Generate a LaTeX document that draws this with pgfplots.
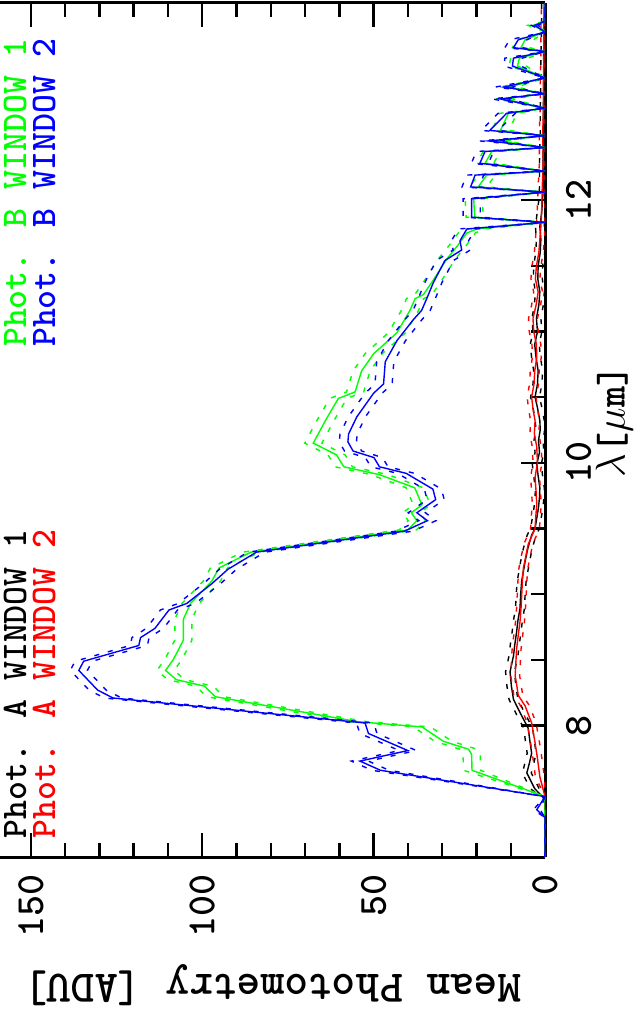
\documentclass[border=0pt]{standalone}
\usepackage{pgfplots}
\pgfplotsset{compat=1.18}
\usepackage{pgfplotstable}

% columns: wavelength, mean, lower, upper
\pgfplotstableread{
lam m lo hi
7.00 0 0 0
7.44 0 0 0
7.52 3.0 1.7 4.3
7.64 5.3 4.0 6.6
7.72 4.5 3.2 5.8
7.79 3.9 2.6 5.2
7.90 4.5 3.2 5.8
7.98 4.9 3.6 6.2
8.10 7.3 6.0 8.6
8.20 9.2 7.9 10.5
8.30 9.8 8.5 11.1
8.41 10.2 8.9 11.5
8.53 9.2 7.9 10.5
8.62 8.8 7.5 10.1
8.71 8.3 7.0 9.6
8.80 7.9 6.6 9.2
8.89 7.3 6.0 8.6
9.00 7.1 5.8 8.4
9.10 6.8 5.5 8.1
9.25 5.8 4.5 7.1
9.35 5.0 3.7 6.3
9.45 3.9 2.6 5.2
9.50 2.9 1.6 4.2
9.58 2.4 1.1 3.7
9.66 1.9 0.6 3.2
9.74 1.6 0.3 2.9
9.81 1.5 0.2 2.8
9.90 2.0 0.7 3.3
9.99 2.4 1.1 3.7
10.08 1.6 0.3 2.9
10.17 1.9 0.6 3.2
10.25 1.4 0.1 2.7
10.32 1.5 0.2 2.8
10.42 2.2 0.9 3.5
10.50 2.9 1.6 4.2
10.60 2.2 0.9 3.5
10.70 2.0 0.7 3.3
10.80 2.6 1.3 3.9
10.90 3.0 1.7 4.3
11.00 2.2 0.9 3.5
11.10 2.5 1.2 3.8
11.20 1.8 0.5 3.1
11.30 1.5 0.2 2.8
11.40 2.1 0.8 3.4
11.50 2.0 0.7 3.3
11.60 1.4 0.1 2.7
11.70 1.2 0.0 2.5
11.80 1.5 0.2 2.8
11.90 1.0 0.0 2.3
12.00 0.7 0.0 1.8
12.10 0.5 0.0 1.6
12.30 0.6 0.0 1.6
12.50 0.4 0.0 1.4
12.70 0.5 0.0 1.4
12.90 0.3 0.0 1.2
13.10 0.4 0.0 1.2
13.30 0.2 0.0 1.0
13.50 0.2 0.0 1.0
}\aone

\pgfplotstableread{
lam m lo hi
7.00 0 0 0
7.46 0 0 0
7.61 1.5 0.2 2.8
7.75 2.2 0.9 3.5
7.87 2.9 1.6 4.2
8.02 3.9 2.6 5.2
8.15 5.8 4.5 7.1
8.23 7.8 6.5 9.1
8.30 8.2 6.9 9.5
8.38 8.7 7.4 10.0
8.48 8.5 7.2 9.8
8.58 8.3 7.0 9.6
8.69 7.8 6.5 9.1
8.79 7.3 6.0 8.6
8.89 7.0 5.7 8.3
8.99 6.8 5.5 8.1
9.10 6.6 5.3 7.9
9.20 6.3 5.0 7.6
9.29 5.6 4.3 6.9
9.38 4.9 3.6 6.2
9.50 2.9 1.6 4.2
9.59 2.7 1.4 4.0
9.68 2.4 1.1 3.7
9.78 2.6 1.3 3.9
9.89 2.9 1.6 4.2
10.00 2.2 0.9 3.5
10.12 2.4 1.1 3.7
10.22 3.1 1.8 4.4
10.32 2.9 1.6 4.2
10.41 3.5 2.2 4.8
10.50 3.9 2.6 5.2
10.60 3.2 1.9 4.5
10.70 3.0 1.7 4.3
10.80 2.4 1.1 3.7
10.90 2.5 1.2 3.8
11.00 3.3 2.0 4.6
11.10 3.5 2.2 4.8
11.20 2.6 1.3 3.9
11.30 2.0 0.7 3.3
11.40 2.8 1.5 4.1
11.50 2.5 1.2 3.8
11.60 1.8 0.5 3.1
11.70 1.5 0.2 2.8
11.80 1.2 0.0 2.5
11.90 1.0 0.0 2.3
12.10 0.8 0.0 2.0
12.30 0.5 0.0 1.6
12.50 0.7 0.0 1.7
12.70 0.4 0.0 1.4
12.90 0.5 0.0 1.4
13.10 0.3 0.0 1.2
13.30 0.4 0.0 1.2
13.50 0.2 0.0 1.0
}\atwo

\pgfplotstableread{
lam m lo hi
7.00 0 0 0
7.46 0 0 0
7.66 21.3 18.8 23.8
7.78 21.4 18.9 23.9
7.82 22.3 19.8 24.8
7.88 29.6 27.1 32.1
7.99 35.9 33.4 38.4
8.03 54.6 52.1 57.1
8.22 96.2 93.7 98.7
8.30 99.3 96.8 101.8
8.35 107.6 105.1 110.1
8.42 110.7 108.2 113.2
8.50 108.5 106.0 111.0
8.65 105.5 103.0 108.0
8.81 105.5 103.0 108.0
8.93 103.4 100.9 105.9
9.10 97.2 94.7 99.7
9.20 95.1 92.6 97.6
9.32 85.8 83.3 88.3
9.49 40.0 37.5 42.5
9.56 37.4 34.9 39.9
9.62 39.0 36.5 41.5
9.68 35.9 33.4 38.4
9.81 38.0 35.5 40.5
9.91 48.3 45.8 50.8
9.97 58.7 56.2 61.2
10.06 60.8 58.3 63.3
10.15 67.6 65.1 70.1
10.32 64.1 61.6 66.6
10.49 60.3 57.8 62.8
10.54 55.4 52.9 57.9
10.70 53.5 51.0 56.0
10.83 50.0 47.5 52.5
10.91 46.6 44.1 49.1
10.99 43.2 40.7 45.7
11.16 39.4 36.9 41.9
11.25 37.9 35.4 40.4
11.28 35.5 33.0 38.0
11.39 32.6 30.1 35.1
11.55 28.7 26.2 31.2
11.66 25.3 22.8 27.8
11.75 22.8 20.3 25.3
11.78 19.9 17.4 22.4
11.83 0 0 0
11.87 20.5 18.0 23.0
12.01 20.8 18.3 23.3
12.06 0 0 0
12.10 19.5 17.0 22.0
12.19 17.0 14.5 19.5
12.22 0 0 0
12.28 17.5 15.0 20.0
12.37 15.5 13.0 18.0
12.40 0 0 0
12.45 14.0 11.5 16.5
12.49 0 0 0
12.53 13.0 10.5 15.5
12.66 10.7 8.2 13.2
12.70 0 0 0
12.77 12.0 9.5 14.5
12.81 0 0 0
12.86 10.7 8.2 13.2
12.93 0 0 0
13.02 8.0 5.5 10.5
13.08 7.5 5.0 10.0
13.13 0 0 0
13.16 7.0 4.5 9.5
13.22 5.8 3.3 8.3
13.28 0 0 0
13.33 3.5 2.0 5.0
13.36 0 0 0
13.50 0 0 0
}\bone

\pgfplotstableread{
lam m lo hi
7.00 0 0 0
7.30 0 0 0
7.36 2.4 1.4 3.4
7.46 0 0 0
7.66 48.0 45.5 50.5
7.73 54.0 51.5 56.5
7.81 40.0 37.5 42.5
7.94 51.5 49.0 54.0
8.02 52.5 50.0 55.0
8.21 126.0 123.5 128.5
8.27 130.5 128.0 133.0
8.42 136.0 133.5 138.5
8.49 134.6 132.1 137.1
8.61 118.5 116.0 121.0
8.67 118.0 115.5 120.5
8.74 113.8 111.3 116.3
8.88 109.7 107.2 112.2
8.93 104.5 102.0 107.0
9.08 97.2 94.7 99.7
9.19 92.5 90.0 95.0
9.32 84.2 81.7 86.7
9.48 41.0 38.5 43.5
9.56 34.3 31.8 36.8
9.62 37.4 34.9 39.9
9.72 31.9 29.4 34.4
9.80 32.7 30.2 35.2
9.92 40.5 38.0 43.0
9.97 48.3 45.8 50.8
10.04 49.9 47.4 52.4
10.09 56.0 53.5 58.5
10.16 57.5 55.0 60.0
10.22 57.3 54.8 59.8
10.35 54.9 52.4 57.4
10.53 50.0 47.5 52.5
10.60 47.1 44.6 49.6
10.77 46.6 44.1 49.1
10.93 43.2 40.7 45.7
11.09 38.4 35.9 40.9
11.16 36.0 33.5 38.5
11.25 34.5 32.0 37.0
11.37 32.6 30.1 35.1
11.54 29.2 26.7 31.7
11.62 24.3 21.8 26.8
11.69 24.8 22.3 27.3
11.78 22.8 20.3 25.3
11.83 0 0 0
11.87 21.4 18.9 23.9
12.01 21.4 18.9 23.9
12.06 0 0 0
12.10 21.7 19.2 24.2
12.19 20.4 17.9 22.9
12.22 0 0 0
12.28 19.0 16.5 21.5
12.37 17.5 15.0 20.0
12.40 0 0 0
12.45 16.5 14.0 19.0
12.49 0 0 0
12.53 16.1 13.6 18.6
12.66 11.2 8.7 13.7
12.70 0 0 0
12.77 13.1 10.6 15.6
12.81 0 0 0
12.86 12.0 9.5 14.5
12.93 0 0 0
13.02 9.5 7.0 12.0
13.08 9.2 6.7 11.7
13.13 0 0 0
13.16 9.2 6.7 11.7
13.22 7.8 5.3 10.3
13.28 0 0 0
13.33 3.0 2.0 4.0
13.36 0 0 0
13.50 0 0 0
}\btwo

\begin{document}
\begin{tikzpicture}
\begin{axis}[
    scale only axis,
    width=272.5pt,
    height=427pt,
    x dir=reverse,
    xmin=0, xmax=159,
    ymin=7, ymax=13.5,
    axis x line*=box,
    axis y line*=right,
    axis line style={line width=1.5pt, black},
    tick align=inside,
    xtick={0,50,100,150},
    minor x tick num=4,
    ytick={8,10,12},
    minor y tick num=3,
    major tick length=12pt,
    minor tick length=7pt,
    tick style={line width=1.2pt, black},
    /pgf/number format/assume math mode=true,
    xticklabel style={rotate=90, anchor=east, font=\fontsize{20}{24}\selectfont\ttfamily\bfseries},
    xticklabel shift=5pt,
    yticklabel pos=right,
    yticklabel style={rotate=90, anchor=north, font=\fontsize{20}{24}\selectfont\ttfamily\bfseries},
    yticklabel shift=7pt,
    xlabel={Mean Photometry [ADU]},
    ylabel={$\lambda$[$\mu$m]},
    every axis x label/.style={at={(axis description cs:0.5,-0.15)}, anchor=center,
      rotate=180, font=\fontsize{22.6}{26}\selectfont\ttfamily\bfseries},
    every axis y label/.style={at={(axis description cs:1.127,0.51)}, anchor=center,
      rotate=90, font=\fontsize{20}{24}\selectfont\ttfamily\bfseries},
    solid/.style={line width=0.7pt},
    err/.style={line width=0.7pt, dash pattern=on 2.5pt off 4.5pt},
  ]
  % Phot. A, window 1
  \addplot[black, solid] table[x=m, y=lam] {\aone};
  \addplot[black, err] table[x=lo, y=lam] {\aone};
  \addplot[black, err] table[x=hi, y=lam] {\aone};
  % Phot. A, window 2
  \addplot[red, solid] table[x=m, y=lam] {\atwo};
  \addplot[red, err] table[x=lo, y=lam] {\atwo};
  \addplot[red, err] table[x=hi, y=lam] {\atwo};
  % Phot. B, window 1
  \addplot[green, solid] table[x=m, y=lam] {\bone};
  \addplot[green, err] table[x=lo, y=lam] {\bone};
  \addplot[green, err] table[x=hi, y=lam] {\bone};
  % Phot. B, window 2
  \addplot[blue, solid] table[x=m, y=lam] {\btwo};
  \addplot[blue, err] table[x=lo, y=lam] {\btwo};
  \addplot[blue, err] table[x=hi, y=lam] {\btwo};

  \begin{scope}[every node/.style={rotate=90, anchor=base west, inner sep=0pt,
      font=\fontsize{18}{20}\selectfont\ttfamily\bfseries}]
    \node[text=black] at (axis cs:151.4,7.14) {Phot. A WINDOW 1};
    \node[text=red]   at (axis cs:142.9,7.14) {Phot. A WINDOW 2};
    \node[text=green] at (axis cs:151.4,10.88) {Phot. B WINDOW 1};
    \node[text=blue]  at (axis cs:142.9,10.88) {Phot. B WINDOW 2};
  \end{scope}
\end{axis}
\pgfresetboundingbox
\path[use as bounding box] (0,-79pt) rectangle (316.5pt,428.5pt);
\end{tikzpicture}
\end{document}
